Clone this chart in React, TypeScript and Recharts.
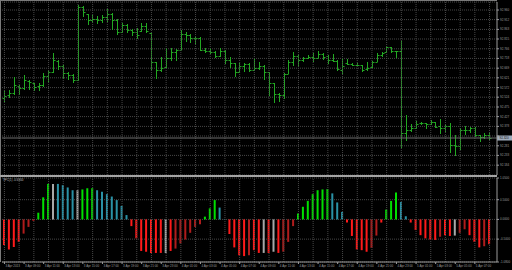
import React from "react";
import {
  ComposedChart,
  Bar,
  XAxis,
  YAxis,
  CartesianGrid,
  Cell,
  ReferenceLine,
} from "recharts";

// price bars, 30 min each
const opens = [
  92.520, 92.535, 92.545, 92.580, 92.570, 92.605, 92.595, 92.580, 92.585, 92.630,
  92.650, 92.705, 92.680, 92.645, 92.635, 92.610, 92.975, 92.940, 92.910, 92.915,
  92.910, 92.925, 92.940, 92.910, 92.850, 92.885, 92.860, 92.850, 92.855, 92.880,
  92.845, 92.700, 92.660, 92.675, 92.720, 92.750, 92.760, 92.840, 92.835, 92.820,
  92.820, 92.760, 92.755, 92.750, 92.730, 92.755, 92.710, 92.695, 92.650, 92.680,
  92.690, 92.660, 92.670, 92.680, 92.650, 92.595, 92.540, 92.535, 92.640, 92.700,
  92.730, 92.710, 92.720, 92.725, 92.720, 92.740, 92.730, 92.710, 92.705, 92.660,
  92.695, 92.690, 92.685, 92.685, 92.665, 92.675, 92.700, 92.735, 92.750, 92.775,
  92.755, 92.755, 92.345, 92.360, 92.370, 92.395, 92.395, 92.390, 92.400, 92.380,
  92.370, 92.380, 92.285, 92.280, 92.360, 92.360, 92.370, 92.335, 92.325, 92.335,
];
const highs = [
  92.560, 92.560, 92.625, 92.585, 92.635, 92.610, 92.595, 92.595, 92.645, 92.660,
  92.745, 92.710, 92.685, 92.650, 92.640, 92.985, 92.980, 92.940, 92.935, 92.930,
  92.935, 92.965, 92.945, 92.915, 92.895, 92.890, 92.865, 92.870, 92.895, 92.895,
  92.845, 92.700, 92.725, 92.770, 92.770, 92.765, 92.860, 92.850, 92.840, 92.825,
  92.825, 92.770, 92.770, 92.755, 92.770, 92.760, 92.725, 92.695, 92.695, 92.695,
  92.695, 92.720, 92.700, 92.685, 92.650, 92.595, 92.545, 92.645, 92.710, 92.750,
  92.735, 92.725, 92.735, 92.745, 92.755, 92.745, 92.735, 92.740, 92.710, 92.720,
  92.715, 92.695, 92.695, 92.685, 92.700, 92.705, 92.745, 92.750, 92.780, 92.775,
  92.755, 92.805, 92.435, 92.390, 92.405, 92.400, 92.395, 92.410, 92.400, 92.415,
  92.390, 92.395, 92.335, 92.370, 92.380, 92.375, 92.375, 92.335, 92.345, 92.350,
];
const lows = [
  92.500, 92.520, 92.535, 92.535, 92.560, 92.560, 92.555, 92.555, 92.575, 92.600,
  92.645, 92.660, 92.615, 92.610, 92.595, 92.605, 92.925, 92.885, 92.895, 92.890,
  92.895, 92.900, 92.860, 92.835, 92.845, 92.845, 92.830, 92.815, 92.850, 92.845,
  92.660, 92.615, 92.650, 92.670, 92.705, 92.705, 92.760, 92.800, 92.795, 92.785,
  92.755, 92.745, 92.740, 92.720, 92.725, 92.690, 92.670, 92.625, 92.645, 92.650,
  92.650, 92.655, 92.660, 92.610, 92.530, 92.495, 92.500, 92.515, 92.640, 92.680,
  92.675, 92.700, 92.715, 92.700, 92.720, 92.710, 92.690, 92.700, 92.655, 92.640,
  92.685, 92.680, 92.680, 92.650, 92.655, 92.670, 92.700, 92.725, 92.745, 92.745,
  92.720, 92.270, 92.305, 92.350, 92.365, 92.385, 92.365, 92.385, 92.370, 92.340,
  92.350, 92.245, 92.230, 92.260, 92.335, 92.345, 92.325, 92.300, 92.315, 92.310,
];
const closes = [
  92.530, 92.545, 92.585, 92.570, 92.610, 92.600, 92.575, 92.585, 92.630, 92.650,
  92.710, 92.680, 92.645, 92.635, 92.610, 92.975, 92.950, 92.910, 92.915, 92.910,
  92.925, 92.940, 92.910, 92.850, 92.885, 92.860, 92.850, 92.835, 92.880, 92.855,
  92.700, 92.660, 92.670, 92.720, 92.750, 92.760, 92.840, 92.835, 92.820, 92.820,
  92.760, 92.755, 92.750, 92.730, 92.755, 92.710, 92.695, 92.650, 92.680, 92.690,
  92.660, 92.670, 92.680, 92.650, 92.595, 92.540, 92.535, 92.640, 92.700, 92.730,
  92.710, 92.720, 92.725, 92.720, 92.740, 92.725, 92.710, 92.705, 92.665, 92.680,
  92.690, 92.685, 92.685, 92.660, 92.670, 92.700, 92.735, 92.745, 92.775, 92.755,
  92.755, 92.345, 92.360, 92.370, 92.390, 92.395, 92.390, 92.400, 92.375, 92.370,
  92.380, 92.285, 92.280, 92.360, 92.360, 92.370, 92.335, 92.325, 92.335, 92.320,
];

// oscillator histogram
const oscValues = [
  -0.65, -0.76, -0.70, -0.57, -0.36, -0.19, -0.03, 0.17, 0.56, 0.90,
  0.90, 0.90, 0.87, 0.81, 0.74, 0.74, 0.76, 0.79, 0.79, 0.74,
  0.70, 0.64, 0.58, 0.49, 0.34, 0.11, -0.17, -0.48, -0.80, -0.82,
  -0.85, -0.85, -0.85, -0.85, -0.80, -0.74, -0.61, -0.51, -0.34, -0.19,
  -0.12, 0.07, 0.28, 0.49, 0.30, 0.01, -0.37, -0.71, -0.91, -0.93,
  -0.91, -0.78, -0.85, -0.85, -0.85, -0.82, -0.85, -0.82, -0.57, -0.17,
  0.15, 0.32, 0.47, 0.64, 0.74, 0.76, 0.77, 0.66, 0.43, 0.19,
  -0.08, -0.42, -0.76, -0.78, -0.82, -0.72, -0.41, -0.08, 0.25, 0.47,
  0.68, 0.44, 0.08, -0.08, -0.27, -0.40, -0.48, -0.51, -0.52, -0.44,
  -0.40, -0.42, -0.41, -0.34, -0.25, -0.40, -0.57, -0.71, -0.68, -0.63,
];
// G up+, T down+, R down-, D up-, W flat
const oscStates = [
  "RRRRDDRGGG", "WTTTTWGGGT", "TTTTTTRRRR", "RRRWRDDDDD", "DGGGTTRRRR",
  "DRRWRWRDDD", "GGGGGGGTTT", "RRRRRDDRGG", "GTTRRRRRRD", "RRWDDRRRDR",
].join("").split("");

const stateColors: Record<string, string> = {
  G: "#00e000",
  T: "#2a92a6",
  R: "#ff1a1a",
  D: "#b01c1c",
  W: "#a8a8a8",
};

const priceTicks = [
  92.960, 92.912, 92.863, 92.815, 92.766, 92.718, 92.669, 92.621, 92.572,
  92.524, 92.475, 92.427, 92.378, 92.330, 92.281, 92.233, 92.184,
];
const oscTicks = [1.05, 0.5, 0, -0.5, -1.08];

function barTime(i: number) {
  const mins = 7 * 60 + i * 30;
  const day = 3 + Math.floor(mins / 1440);
  const m = mins % 1440;
  const hh = String(Math.floor(m / 60)).padStart(2, "0");
  const mm = String(m % 60).padStart(2, "0");
  return `${day} Apr ${hh}:${mm}`;
}

const times = opens.map((_, i) => barTime(i));
const gridTicks = times.filter((_, i) => i % 3 === 0);
const labelTicks = times.filter((_, i) => i % 4 === 0);

const rows = times.map((t, i) => ({
  t,
  o: opens[i],
  h: highs[i],
  l: lows[i],
  c: closes[i],
  range: [lows[i], highs[i]],
  osc: oscValues[i],
}));

const FONT = "'Liberation Sans', Arial, sans-serif";
const BAR_GREEN = "#22a822";
const GRID = "#474747";
const AXIS = "#9a9a9a";
const LABEL = "#9c9c9c";
const LAST = closes[closes.length - 1];

const OhlcShape = (props: any) => {
  const { x, y, width, height, payload } = props;
  if (x == null || y == null) return null;
  const top = Math.min(y, y + height);
  const h = Math.max(Math.abs(height), 1);
  const span = payload.h - payload.l || 1;
  const yOf = (v: number) => Math.round(top + ((payload.h - v) / span) * h) + 0.5;
  const cx = Math.round(x + width / 2) + 0.5;
  return (
    <g stroke={BAR_GREEN} strokeWidth={1}>
      <line x1={cx} x2={cx} y1={top} y2={top + h} />
      <line x1={cx - 2} x2={cx} y1={yOf(payload.o)} y2={yOf(payload.o)} />
      <line x1={cx} x2={cx + 2} y1={yOf(payload.c)} y2={yOf(payload.c)} />
    </g>
  );
};

// the bid box hides the price label that sits under it
const PriceTick = ({ x, y, payload }: any) =>
  Math.abs(payload.value - LAST) < 0.02 ? null : (
    <text x={x} y={y + 1} fontSize={3} fill={LABEL} fontFamily={FONT}>
      {Number(payload.value).toFixed(3)}
    </text>
  );

const OscTick = ({ x, y, payload }: any) => (
  <text x={x} y={y + 1} fontSize={3} fill={LABEL} fontFamily={FONT}>
    {Number(payload.value).toFixed(4)}
  </text>
);

const TimeTick = ({ x, y, payload }: any) => (
  <text x={x + 1} y={y + 3} fontSize={3} fill={LABEL} fontFamily={FONT}>
    {payload.value === times[0] ? "3 Apr 2013" : payload.value}
  </text>
);

const BidLabel = (props: any) => {
  const vb = props.viewBox || {};
  const x = vb.x + vb.width;
  const y = vb.y;
  return (
    <g>
      <rect x={x} y={y - 2.5} width={15} height={5} fill="#9eabbb" />
      <text x={x + 2.5} y={y + 1} fontSize={3} fill="#101010" fontFamily={FONT}>
        {props.text}
      </text>
    </g>
  );
};

// vertical grid lines every 3 bars
const timeGrid = () =>
  gridTicks.map((t) => (
    <ReferenceLine key={`vg-${t}`} x={t} stroke={GRID} strokeDasharray="1 1" />
  ));

export default function App() {
  return (
    <div
      style={{
        position: "fixed",
        left: 0,
        top: 0,
        width: 512,
        height: 270,
        background: "#000",
        overflow: "hidden",
      }}
    >
      <div style={{ position: "absolute", left: 0, top: 0 }}>
        <ComposedChart
          width={512}
          height={177}
          data={rows}
          margin={{ top: 2, right: 0, bottom: 2, left: 2 }}
        >
          <CartesianGrid stroke={GRID} strokeDasharray="1 1" vertical={false} />
          <XAxis
            dataKey="t"
            ticks={gridTicks}
            interval={0}
            tick={false}
            tickLine={false}
            axisLine={false}
            height={0}
            padding={{ left: 0, right: 5 }}
          />
          <YAxis
            orientation="right"
            width={15}
            domain={[92.135, 93.0]}
            ticks={priceTicks}
            interval={0}
            tick={<PriceTick />}
            tickSize={2}
            tickMargin={1}
            stroke={AXIS}
          />
          {timeGrid()}
          <ReferenceLine
            y={LAST}
            stroke="#6e6e6e"
            label={<BidLabel text={LAST.toFixed(3)} />}
          />
          <Bar
            dataKey="range"
            barSize={5}
            shape={<OhlcShape />}
            isAnimationActive={false}
          />
        </ComposedChart>
      </div>
      <div style={{ position: "absolute", left: 0, top: 176 }}>
        <ComposedChart
          width={512}
          height={94}
          data={rows}
          margin={{ top: 2, right: 0, bottom: 0, left: 2 }}
        >
          <CartesianGrid stroke={GRID} strokeDasharray="1 1" vertical={false} />
          <XAxis
            dataKey="t"
            ticks={labelTicks}
            interval={0}
            tick={<TimeTick />}
            tickSize={2}
            tickMargin={0}
            height={8}
            stroke={AXIS}
            padding={{ left: 0, right: 5 }}
          />
          <YAxis
            orientation="right"
            width={15}
            domain={[-1.08, 1.05]}
            ticks={oscTicks}
            interval={0}
            tick={<OscTick />}
            tickSize={2}
            tickMargin={1}
            stroke={AXIS}
          />
          {timeGrid()}
          <Bar dataKey="osc" barSize={2} isAnimationActive={false}>
            {rows.map((_, i) => (
              <Cell key={`osc-${i}`} fill={stateColors[oscStates[i]]} />
            ))}
          </Bar>
        </ComposedChart>
      </div>
      <svg
        width={512}
        height={270}
        style={{ position: "absolute", left: 0, top: 0, pointerEvents: "none" }}
      >
        <line x1={0} x2={497} y1={0.5} y2={0.5} stroke="#7a7a7a" />
        <line x1={0.5} x2={0.5} y1={0} y2={262} stroke="#7a7a7a" />
        <rect x={0} y={175} width={497} height={2} fill="#a4a4a4" />
        <text x={3} y={181} fontSize={3} fill="#b8b8b8" fontFamily={FONT}>
          TFC(1) -0.6300
        </text>
      </svg>
    </div>
  );
}
